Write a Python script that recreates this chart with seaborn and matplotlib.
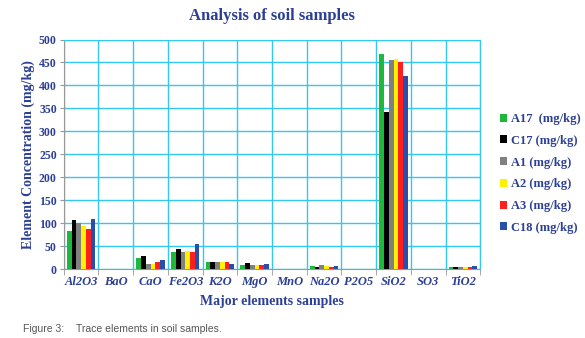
import seaborn as sns
import pandas as pd
import matplotlib.pyplot as plt
from matplotlib.ticker import MultipleLocator, FixedLocator

oxides = ["Al2O3", "BaO", "CaO", "Fe2O3", "K2O", "MgO", "MnO",
          "Na2O", "P2O5", "SiO2", "SO3", "TiO2"]
samples = ["A17  (mg/kg)", "C17 (mg/kg)", "A1 (mg/kg)",
           "A2 (mg/kg)", "A3 (mg/kg)", "C18 (mg/kg)"]

a17 = [83, 0, 23, 38, 15, 9, 0, 7, 1.0, 469, 0, 5]
c17 = [107, 0, 28, 44, 15, 13, 0, 5, 0.3, 342, 0, 5]
a1 = [100, 0, 12, 38, 15, 9, 0, 9, 0.3, 456, 0, 5]
a2 = [94, 0, 12, 39, 15, 9, 0, 7, 1.0, 458, 0, 4]
a3 = [87, 0, 15, 38, 15, 9, 0, 5, 0.3, 450, 0, 5]
c18 = [108, 0, 20, 55, 12, 12, 0, 7, 0.3, 421, 0, 6]

colors = ["#1DB83C", "#000000", "#808080", "#FFF200", "#FF1F1F", "#2A4FA8"]

# long format for seaborn
rows = []
for name, vals in zip(samples, [a17, c17, a1, a2, a3, c18]):
    for ox, v in zip(oxides, vals):
        rows.append({"oxide": ox, "sample": name, "value": v})
data = pd.DataFrame(rows)

navy = "#2B3F94"
grid_c = "#33C8F0"
serif = ["Liberation Serif", "DejaVu Serif"]

fig = plt.figure(figsize=(5.85, 3.38), dpi=100)
ax = fig.add_axes([0.109, 0.204, 0.712, 0.679])

sns.barplot(data=data, x="oxide", y="value", hue="sample",
            palette=colors, width=0.82, saturation=1, ax=ax,
            order=oxides, hue_order=samples, zorder=3, legend=True)

ax.set_ylim(0, 500)
ax.set_xlim(-0.5, len(oxides) - 0.5)
ax.yaxis.set_major_locator(MultipleLocator(50))
ax.xaxis.set_minor_locator(FixedLocator([i - 0.5 for i in range(len(oxides) + 1)]))
ax.grid(axis="y", which="major", color=grid_c, lw=1, zorder=0)
ax.grid(axis="x", which="minor", color=grid_c, lw=1, zorder=0)
ax.set_axisbelow(True)
for s in ax.spines.values():
    s.set_color(grid_c)
ax.spines["left"].set_color("#999999")
ax.spines["bottom"].set_color("#999999")

ax.tick_params(axis="x", which="major", length=0, pad=5)
ax.tick_params(axis="x", which="minor", length=4, color="#999999")
ax.tick_params(axis="y", length=3, color="#999999", pad=2)

for lab in ax.get_xticklabels():
    lab.set_fontfamily(serif)
    lab.set_fontstyle("italic")
    lab.set_fontweight("bold")
    lab.set_fontsize(9)
    lab.set_color(navy)
for lab in ax.get_yticklabels():
    lab.set_fontfamily(serif)
    lab.set_fontweight("bold")
    lab.set_fontsize(8.5)
    lab.set_color(navy)

ax.set_xlabel("Major elements samples", fontfamily=serif, fontweight="bold",
              fontsize=10, color=navy, labelpad=5)
ax.set_ylabel("Element Concentration (mg/kg)", fontfamily=serif,
              fontweight="bold", fontsize=10, color=navy, labelpad=3)

fig.text(0.465, 0.953, "Analysis of soil samples", ha="center", va="center",
         fontfamily=serif, fontweight="bold", fontsize=12, color=navy)

handles, labels = ax.get_legend_handles_labels()
ax.get_legend().remove()
leg = fig.legend(handles, labels, loc="center left", bbox_to_anchor=(0.835, 0.487),
                 frameon=False, handlelength=0.6, handleheight=0.6,
                 handletextpad=0.3, labelspacing=0.78,
                 prop={"family": serif, "weight": "bold", "size": 9})
for t in leg.get_texts():
    t.set_color(navy)

cap_font = ["Liberation Sans Narrow", "Liberation Sans"]
fig.text(0.039, 0.027, "Figure 3:", fontfamily=cap_font,
         fontsize=7.5, color="#555555", va="center")
fig.text(0.13, 0.027, "Trace elements in soil samples.", fontfamily=cap_font,
         fontsize=7.5, color="#555555", va="center")

plt.savefig("out.png", dpi=100)
